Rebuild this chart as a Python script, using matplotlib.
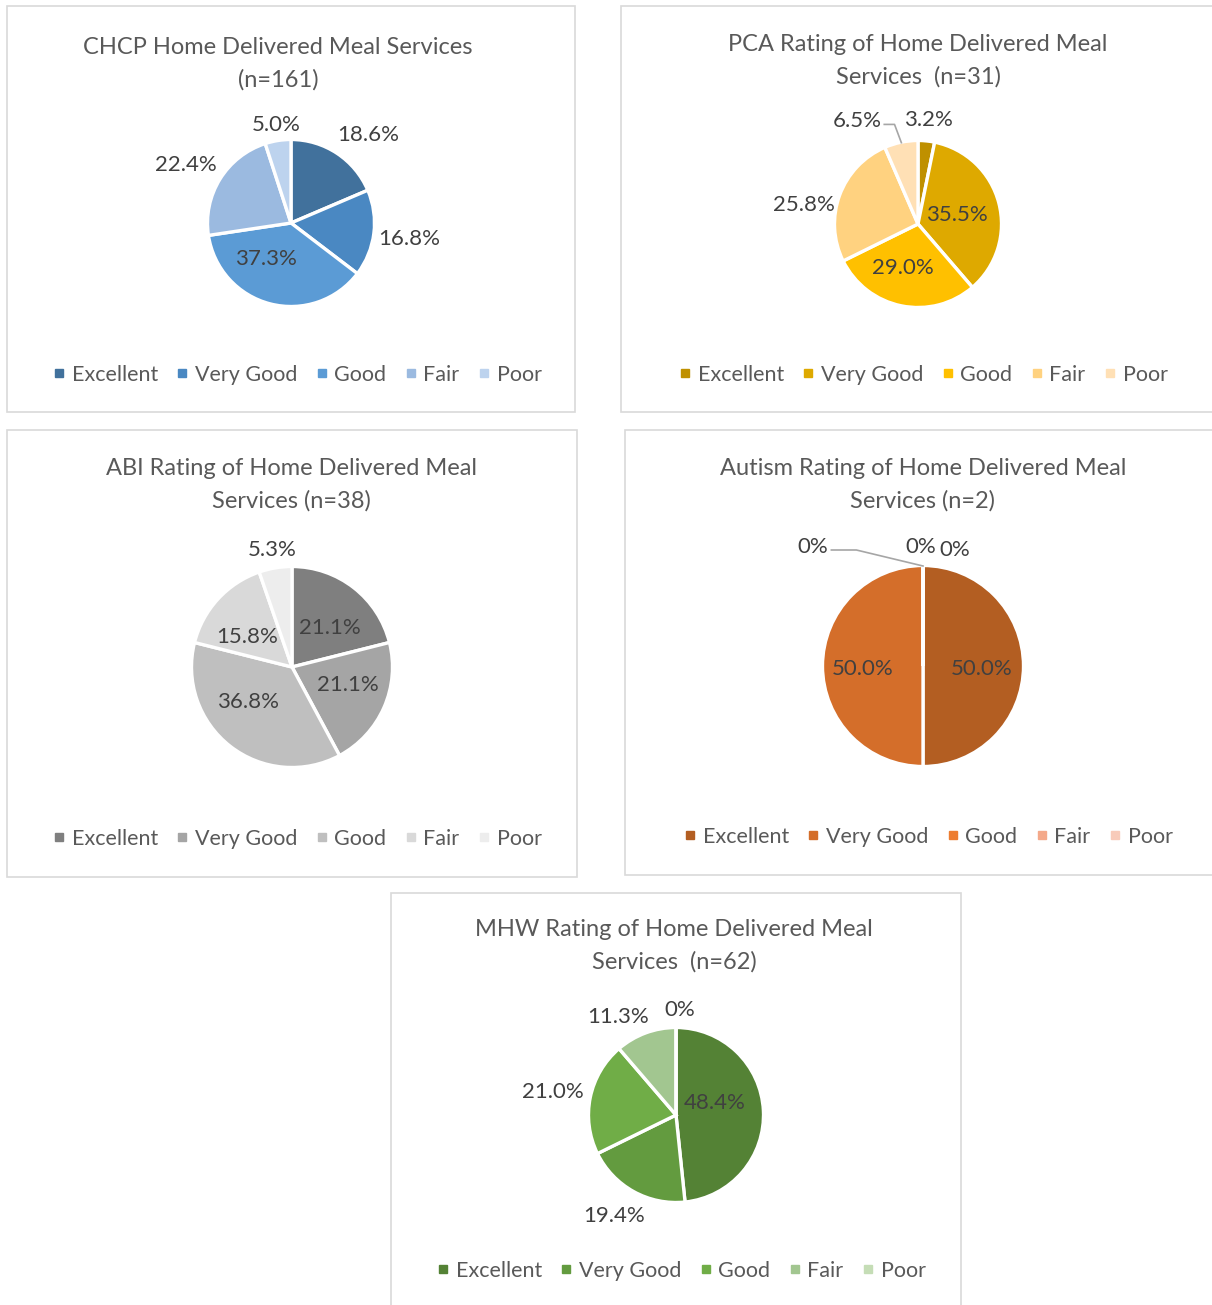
import numpy as np
import matplotlib.pyplot as plt
from matplotlib.patches import Rectangle
from matplotlib.lines import Line2D

W, H = 1212, 1305

# ---------------------------------
# Data
# ---------------------------------
categories = ["Excellent", "Very Good", "Good", "Fair", "Poor"]

chcp_title = "CHCP Home Delivered Meal Services\n(n=161)"
chcp_values = [18.6, 16.8, 37.3, 22.4, 5.0]

pca_title = "PCA Rating of Home Delivered Meal\nServices  (n=31)"
pca_values = [3.2, 35.5, 29.0, 25.8, 6.5]

abi_title = "ABI Rating of Home Delivered Meal\nServices (n=38)"
abi_values = [21.1, 21.1, 36.8, 15.8, 5.3]

autism_title = "Autism Rating of Home Delivered Meal\nServices (n=2)"
autism_values = [50.0, 50.0, 0.0, 0.0, 0.0]

mhw_title = "MHW Rating of Home Delivered Meal\nServices  (n=62)"
mhw_values = [48.4, 19.4, 21.0, 11.3, 0.0]

# ---------------------------------
# Styles / layout (pixel units, y down)
# ---------------------------------
FONT = "Lato"
TEXT = "#595959"
LABEL = "#404040"
BORDER = "#D9D9D9"

panels = [
    dict(title=chcp_title, values=chcp_values,
         colors=["#41719C", "#4A88C2", "#5B9BD5", "#9BBAE0", "#BDD3EE"],
         box=(7, 6, 575, 412), center=(291, 223), r=82, title_xy=(278, 64),
         legend_xy=(297, 375),
         inside=[False, False, True, False, False],
         offsets=[(14, 8), (-3, 1), (-12, 0), (-2, 6), (1, 4)], leader=[False] * 5),
    dict(title=pca_title, values=pca_values,
         colors=["#BF9000", "#DEA900", "#FFC000", "#FFD280", "#FFE0B5"],
         box=(621, 6, 1214, 412), center=(918, 224), r=82, title_xy=(918, 61),
         legend_xy=(923, 375),
         inside=[False, True, True, False, False],
         offsets=[(0, -2), (-10, 0), (-5, 8), (1, 23), (-40, 0)],
         leader=[False, False, False, False, True]),
    dict(title=abi_title, values=abi_values,
         colors=["#7F7F7F", "#A5A5A5", "#BFBFBF", "#D9D9D9", "#EDEDED"],
         box=(7, 430, 577, 877), center=(292, 667), r=99, title_xy=(291, 485),
         legend_xy=(297, 839),
         inside=[True, True, True, True, False],
         offsets=[(0, -4), (0, 0), (-6, 0), (0, 0), (0, 2)], leader=[False] * 5),
    dict(title=autism_title, values=autism_values,
         colors=["#B35E22", "#D46E2A", "#ED7D31", "#F4A98A", "#F8CBBA"],
         box=(625, 430, 1214, 875), center=(923, 666), r=99, title_xy=(923, 485),
         legend_xy=(928, 837),
         inside=[True, True, False, False, False],
         offsets=[(-3, 3), (1, 3), (-110, -2), (-2, -2), (32, 1)],
         leader=[False, False, True, False, False]),
    dict(title=mhw_title, values=mhw_values,
         colors=["#548235", "#639B3F", "#70AD47", "#A2C690", "#C5DDB6"],
         box=(391, 893, 961, 1307), center=(676, 1115), r=86, title_xy=(674, 946),
         legend_xy=(681, 1271),
         inside=[True, False, False, False, False],
         offsets=[(-15, -10), (-5, -2), (1, 2), (-18, 9), (4, -1)],
         leader=[False] * 5),
]


def fy(py):
    """Pixel row (from top) to data y."""
    return H - py


fig = plt.figure(figsize=(W / 100, H / 100), dpi=100)
ax = fig.add_axes([0, 0, 1, 1])
renderer = fig.canvas.get_renderer()

for p in panels:
    x0, y0, x1, y1 = p["box"]
    ax.add_patch(Rectangle((x0, fy(y1)), x1 - x0, y1 - y0, facecolor="white",
                           edgecolor=BORDER, linewidth=1.2, zorder=0))

    cx, cy = p["center"][0], fy(p["center"][1])
    r = p["r"]
    wedges, _ = ax.pie(p["values"], colors=p["colors"], startangle=90,
                       counterclock=False, center=(cx, cy), radius=r + 1.5,
                       frame=True, wedgeprops=dict(edgecolor="white", linewidth=2.4))

    for w, v, ins, off, lead in zip(wedges, p["values"], p["inside"],
                                    p["offsets"], p["leader"]):
        label = f"{v:.1f}%" if v else "0%"
        ang = np.deg2rad((w.theta1 + w.theta2) / 2)
        dx, dy = np.cos(ang), np.sin(ang)
        txt = ax.text(0, 0, label, ha="center", va="center", fontsize=16,
                      family=FONT, color=LABEL)
        if ins:
            tx = cx + 0.62 * r * dx
            ty = cy + 0.45 * r * dy
        else:
            bb = txt.get_window_extent(renderer)
            d = r + 8 + abs(dx) * bb.width / 2 + abs(dy) * bb.height / 2
            tx = cx + d * dx
            ty = cy + d * dy
        tx += off[0]
        ty -= off[1]
        txt.set_position((tx, ty))
        if lead:
            bb = txt.get_window_extent(renderer)
            px, py = cx + r * dx, cy + r * dy
            sx = tx + bb.width / 2 + 3
            run = min(25, 0.6 * (px - sx))
            ax.plot([sx, sx + run, px], [ty - 3, ty - 3, py + 1],
                    color="#A6A6A6", linewidth=1.2, zorder=5)

    ax.text(p["title_xy"][0], fy(p["title_xy"][1]), p["title"], ha="center",
            va="center", fontsize=17, family=FONT, color=TEXT, linespacing=1.65)

    handles = [Line2D([], [], marker="s", linestyle="none", color=c, markersize=6)
               for c in p["colors"]]
    fig.legend(handles, categories, loc="center",
               bbox_to_anchor=(p["legend_xy"][0] / W, 1 - p["legend_xy"][1] / H),
               ncol=5, frameon=False, handlelength=0.6, handletextpad=0.3,
               columnspacing=0.82, prop=dict(family=FONT, size=15.5),
               labelcolor=TEXT)

ax.set_xlim(0, W)
ax.set_ylim(0, H)
ax.set_aspect("equal")
ax.axis("off")

fig.savefig("out.png", dpi=100, facecolor="white")
